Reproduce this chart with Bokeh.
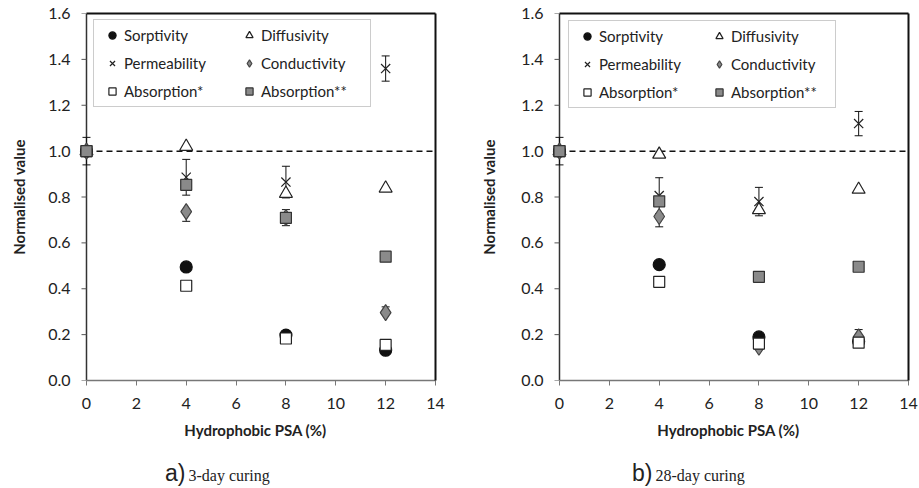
import numpy as np
from bokeh.plotting import figure
from bokeh.models import (ColumnDataSource, Range1d, FixedTicker, NumeralTickFormatter,
                          LinearAxis, Whisker, TeeHead, Legend, LegendItem, Div)
from bokeh.layouts import row, column
from bokeh.embed import file_html
from bokeh.resources import INLINE

# ---------------- data ----------------
psa = [0, 4, 8, 12]
x_ticks = [0, 2, 4, 6, 8, 10, 12, 14]
y_ticks = [0.0, 0.2, 0.4, 0.6, 0.8, 1.0, 1.2, 1.4, 1.6]
series_names = ["Sorptivity", "Diffusivity", "Permeability", "Conductivity",
                "Absorption*", "Absorption**"]

# a) 3-day curing
d3_sorptivity = [1.0, 0.495, 0.198, 0.132]
d3_diffusivity = [1.0, 1.02, 0.815, 0.838]
d3_permeability = [1.0, 0.886, 0.865, 1.36]
d3_conductivity = [1.0, 0.736, 0.71, 0.296]
d3_absorption1 = [1.0, 0.413, 0.183, 0.155]
d3_absorption2 = [1.0, 0.853, 0.709, 0.54]
d3_sorptivity_err_up = [0.06, 0.0, 0.0, 0.0]
d3_sorptivity_err_dn = [0.06, 0.0, 0.0, 0.0]
d3_permeability_err_up = [0.0, 0.078, 0.069, 0.055]
d3_permeability_err_dn = [0.0, 0.078, 0.069, 0.055]
d3_conductivity_err_up = [0.0, 0.0, 0.0, 0.025]
d3_conductivity_err_dn = [0.0, 0.042, 0.0, 0.0]
d3_absorption2_err_up = [0.0, 0.0, 0.036, 0.0]
d3_absorption2_err_dn = [0.0, 0.0, 0.034, 0.0]

# b) 28-day curing
d28_sorptivity = [1.0, 0.505, 0.19, 0.17]
d28_diffusivity = [1.0, 0.986, 0.744, 0.833]
d28_permeability = [1.0, 0.806, 0.78, 1.12]
d28_conductivity = [1.0, 0.715, 0.145, 0.19]
d28_absorption1 = [1.0, 0.43, 0.161, 0.165]
d28_absorption2 = [1.0, 0.781, 0.452, 0.496]
d28_sorptivity_err_up = [0.06, 0.0, 0.0, 0.0]
d28_sorptivity_err_dn = [0.06, 0.0, 0.0, 0.0]
d28_permeability_err_up = [0.0, 0.078, 0.062, 0.053]
d28_permeability_err_dn = [0.0, 0.078, 0.062, 0.053]
d28_conductivity_err_up = [0.0, 0.0, 0.0, 0.032]
d28_conductivity_err_dn = [0.0, 0.045, 0.0, 0.0]
d28_absorption2_err_up = [0.0, 0.0, 0.0, 0.0]
d28_absorption2_err_dn = [0.0, 0.0, 0.0, 0.0]

panel_letters = ["a)", "b)"]
panel_captions = ["3-day curing", "28-day curing"]
x_title = "Hydrophobic PSA (%)"
y_title = "Normalised value"
reference_level = 1.0

# ---------------- styles ----------------
styles = {
    "Sorptivity":   dict(marker="circle",   size=12, fill_color="#111111", line_color="#111111"),
    "Diffusivity":  dict(marker="triangle", size=13, fill_color="white",   line_color="#222222"),
    "Permeability": dict(marker="x",        size=13, fill_color=None,      line_color="#222222"),
    "Conductivity": dict(marker="diamond",  size=16, fill_color="#8a8a8a", line_color="#444444"),
    "Absorption*":  dict(marker="square",   size=11, fill_color="white",   line_color="#222222"),
    "Absorption**": dict(marker="square",   size=11, fill_color="#8a8a8a", line_color="#333333"),
}

FONT = "Lato"
X_PAD = 0.441  # small room left of x=0 so markers at 0 are not clipped
FRAME_H = 367


def make_panel(vals, errs, width, bl, br, leg_lw, leg_xy, title_standoff):
    p = figure(width=width, height=450, output_backend="svg", toolbar_location=None,
               x_range=Range1d(-X_PAD, x_ticks[-1]), y_range=Range1d(y_ticks[0], y_ticks[-1]),
               min_border_left=bl, min_border_right=br, min_border_top=13, min_border_bottom=70)
    p.outline_line_color = None
    p.xgrid.visible = False
    p.ygrid.visible = False
    p.background_fill_color = "white"
    p.border_fill_color = "white"

    # y axis line and outward ticks at x = 0
    yl = p.segment(x0=[x_ticks[0]], x1=[x_ticks[0]], y0=[y_ticks[0]], y1=[y_ticks[-1]],
                   line_color="#333333", line_width=1.5)
    yl.level = "underlay"
    yt = p.ray(x=[x_ticks[0]] * len(y_ticks), y=y_ticks, length=5, length_units="screen",
               angle=np.pi, line_color="#555555", line_width=1)
    yt.level = "underlay"

    # reference line
    ref = p.segment(x0=[x_ticks[0]], x1=[x_ticks[-1]], y0=[reference_level], y1=[reference_level],
                    line_color="#111111", line_width=1.5, line_dash="6 4")
    ref.level = "underlay"

    renderers = {}
    for name in series_names:
        st = styles[name]
        y = vals[name]
        up, dn = errs.get(name, ([0] * len(y), [0] * len(y)))
        keep = [i for i in range(len(y)) if up[i] > 0 or dn[i] > 0]
        if keep:
            esrc = ColumnDataSource(dict(x=[psa[i] for i in keep],
                                         upper=[y[i] + up[i] for i in keep],
                                         lower=[y[i] - dn[i] for i in keep]))
            p.add_layout(Whisker(base="x", upper="upper", lower="lower", source=esrc,
                                 level="underlay", line_color="#111111", line_width=1,
                                 upper_head=TeeHead(size=8, line_color="#111111", line_width=1),
                                 lower_head=TeeHead(size=8, line_color="#111111", line_width=1)))
        src = ColumnDataSource(dict(x=psa, y=y))
        r = p.scatter("x", "y", source=src, marker=st["marker"], size=st["size"],
                      fill_color=st["fill_color"], line_color=st["line_color"], line_width=1.2)
        renderers[name] = r

    legend = Legend(items=[LegendItem(label=n, renderers=[renderers[n]]) for n in series_names],
                    location=leg_xy, orientation="horizontal", ncols=2,
                    margin=0, padding=6, spacing=10,
                    glyph_width=24, glyph_height=18, label_height=18, label_width=leg_lw,
                    label_standoff=0,
                    label_text_font=FONT, label_text_font_size="15px", label_text_color="#222222",
                    border_line_color="#9a9a9a", border_line_width=1,
                    background_fill_color="white", background_fill_alpha=1.0)
    p.add_layout(legend)

    for ax in (p.xaxis[0], p.yaxis[0]):
        ax.minor_tick_line_color = None
        ax.major_label_text_font = FONT
        ax.major_label_text_font_size = "16px"
        ax.major_label_text_color = "#222222"
        ax.axis_label_text_font = FONT
        ax.axis_label_text_font_size = "15px"
        ax.axis_label_text_font_style = "bold"
        ax.axis_label_text_color = "#222222"
    # x axis
    p.xaxis.ticker = FixedTicker(ticks=x_ticks)
    p.xaxis.bounds = (x_ticks[0], x_ticks[-1])
    p.xaxis.axis_label = x_title
    p.xaxis.axis_line_color = "#777777"
    p.xaxis.axis_line_width = 1.5
    p.xaxis.major_tick_line_color = "#777777"
    p.xaxis.major_tick_in = 0
    p.xaxis.major_tick_out = 5
    p.xaxis.major_label_standoff = 12
    p.xaxis.axis_label_standoff = 9
    # y axis: labels + title at the frame edge (line and ticks drawn at x=0 above)
    p.yaxis.ticker = FixedTicker(ticks=y_ticks)
    p.yaxis.formatter = NumeralTickFormatter(format="0.0")
    p.yaxis.axis_label = y_title
    p.yaxis.axis_line_color = None
    p.yaxis.major_tick_line_color = None
    p.yaxis.major_tick_in = 0
    p.yaxis.major_tick_out = 0
    p.yaxis.major_label_standoff = 5
    p.yaxis.axis_label_standoff = title_standoff

    top = LinearAxis(ticker=FixedTicker(ticks=[]), major_label_text_font_size="0px",
                     major_tick_line_color=None, minor_tick_line_color=None,
                     axis_line_color="#111111", axis_line_width=2,
                     bounds=(x_ticks[0], x_ticks[-1]))
    p.add_layout(top, "above")
    right = LinearAxis(ticker=FixedTicker(ticks=[]), major_label_text_font_size="0px",
                       major_tick_line_color=None, minor_tick_line_color=None,
                       axis_line_color="#111111", axis_line_width=2)
    p.add_layout(right, "right")
    return p


def caption_div(letter, caption, width, left):
    html = (f'<span style="font-family:\'Liberation Sans\';font-size:23px;color:#222">{letter}</span>'
            f'<span style="font-family:\'Liberation Serif\';font-size:16px;color:#222;'
            f'margin-left:3px">{caption}</span>')
    return Div(text=html, width=width, height=38, margin=(0, 0, 0, 0),
               styles={"padding-left": f"{left}px", "padding-top": "12px", "line-height": "1",
                       "white-space": "nowrap"})


vals3 = dict(zip(series_names, [d3_sorptivity, d3_diffusivity, d3_permeability,
                                d3_conductivity, d3_absorption1, d3_absorption2]))
errs3 = {"Sorptivity": (d3_sorptivity_err_up, d3_sorptivity_err_dn),
         "Permeability": (d3_permeability_err_up, d3_permeability_err_dn),
         "Conductivity": (d3_conductivity_err_up, d3_conductivity_err_dn),
         "Absorption**": (d3_absorption2_err_up, d3_absorption2_err_dn)}
vals28 = dict(zip(series_names, [d28_sorptivity, d28_diffusivity, d28_permeability,
                                 d28_conductivity, d28_absorption1, d28_absorption2]))
errs28 = {"Sorptivity": (d28_sorptivity_err_up, d28_sorptivity_err_dn),
          "Permeability": (d28_permeability_err_up, d28_permeability_err_dn),
          "Conductivity": (d28_conductivity_err_up, d28_conductivity_err_dn),
          "Absorption**": (d28_absorption2_err_up, d28_absorption2_err_dn)}

p1 = make_panel(vals3, errs3, 460, 75, 25, 103, (18, FRAME_H - 8 - 86), 17)
p2 = make_panel(vals28, errs28, 459, 88, 11, 98, (20, FRAME_H - 9 - 86), 20)
c1 = caption_div(panel_letters[0], panel_captions[0], 460, 165)
c2 = caption_div(panel_letters[1], panel_captions[1], 459, 172)

layout = row(column(p1, c1, spacing=0), column(p2, c2, spacing=0), spacing=0)
open("out.html", "w").write(file_html(layout, INLINE))
